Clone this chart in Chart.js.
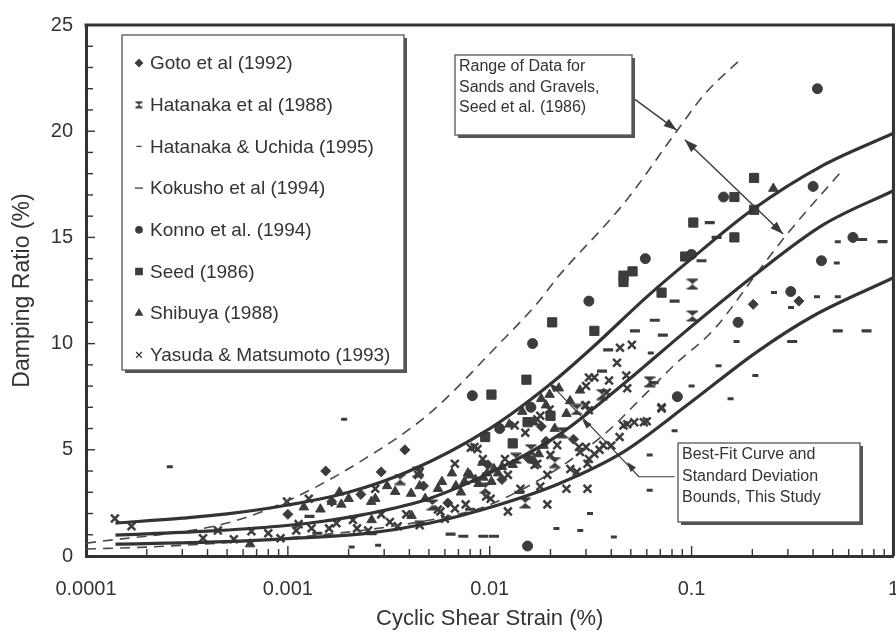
<!DOCTYPE html>
<html><head><meta charset="utf-8">
<script src="https://cdn.jsdelivr.net/npm/chart.js@4.4.1/dist/chart.umd.min.js"></script>
<style>html,body{margin:0;padding:0;background:#fff;overflow:hidden;width:896px;height:637px}canvas{display:block}</style>
</head><body>
<canvas id="c" width="920" height="637" style="width:920px;height:637px"></canvas>
<script>
// ---- axis ticks ----
const xTickValues = [0.0001, 0.001, 0.01, 0.1, 1];
const xTickLabels = ['0.0001', '0.001', '0.01', '0.1', '1'];
const yTickValues = [0, 5, 10, 15, 20, 25];

// ---- fitted curves ----
const bestFitUpper = [[0.00014,1.55],[0.0003,1.78],[0.0005,1.98],[0.001,2.4],[0.002,3.0],[0.004,4.0],[0.01,6.0],[0.02,8.1],[0.033,9.9],[0.06,12.2],[0.1,14.0],[0.2,16.3],[0.45,18.4],[1,19.9]];
const bestFitMiddle = [[0.00014,0.98],[0.0004,1.17],[0.0009,1.4],[0.0014,1.6],[0.0024,1.96],[0.005,2.7],[0.011,4.1],[0.022,5.7],[0.046,8.1],[0.094,10.6],[0.21,13.3],[0.45,15.6],[1,17.2]];
const bestFitLower = [[0.00014,0.56],[0.0004,0.65],[0.001,0.82],[0.0024,1.05],[0.005,1.54],[0.011,2.4],[0.022,3.4],[0.046,4.9],[0.098,7.2],[0.21,9.6],[0.4,11.3],[1,13.1]];
const seedRangeUpper = [[0.0001,0.6],[0.0005,1.55],[0.001,2.6],[0.0024,4.57],[0.0051,6.76],[0.0109,9.9],[0.0172,11.9],[0.0216,13.1],[0.0462,16.6],[0.0844,20.0],[0.115,21.7],[0.18,23.5]];
const seedRangeLower = [[0.0001,0.33],[0.0002,0.42],[0.001,0.85],[0.0033,1.4],[0.0072,2.0],[0.0095,2.33],[0.02,3.9],[0.038,5.83],[0.0555,7.37],[0.0815,8.96],[0.13,10.7],[0.21,13.3],[0.3,15.2],[0.54,18.0]];

// ---- data series ----
const seriesNames = ['Goto et al (1992)','Hatanaka et al (1988)','Hatanaka & Uchida (1995)','Kokusho et al (1994)','Konno et al. (1994)','Seed (1986)','Shibuya (1988)','Yasuda & Matsumoto (1993)'];
const goto1992 = [[0.001,1.96],[0.00154,4.0],[0.0029,3.96],[0.0038,5.0],[0.00165,2.56],[0.0023,2.9],[0.0047,3.3],[0.0062,2.5],[0.0115,3.6],[0.0155,4.6],[0.202,11.85],[0.34,12.0],[0.018,6.1],[0.019,5.4],[0.026,5.5],[0.0098,4.3]];
const hatanaka1988 = [[0.101,12.8],[0.101,11.3],[0.0044,3.96],[0.0036,3.6],[0.0095,3.2],[0.021,4.4],[0.027,6.9],[0.036,7.6],[0.015,2.5],[0.062,8.2],[0.0052,2.4],[0.0135,4.6],[0.016,5.0],[0.023,5.8]];
const hatanakaUchida1995 = [[0.00026,4.2],[0.0019,6.44],[0.00207,0.42],[0.0028,0.51],[0.0214,1.3],[0.0281,1.2],[0.0412,0.9],[0.0314,2.0],[0.062,3.1],[0.062,4.75],[0.0824,5.9],[0.1,8.0],[0.156,7.4],[0.207,8.5],[0.136,8.96],[0.0628,9.56],[0.53,14.8],[0.524,13.8],[0.256,12.4],[0.418,12.2],[0.53,12.2],[0.311,11.7],[0.167,10.1]];
const kokusho1994 = [[0.123,15.7],[0.133,15.0],[0.112,13.9],[0.0824,12.0],[0.0657,11.1],[0.0524,10.6],[0.072,10.4],[0.0386,9.7],[0.036,8.7],[0.0649,8.16],[0.315,10.1],[0.53,10.6],[0.736,10.6],[0.883,14.8],[0.7,14.9],[0.00128,1.87],[0.0014,1.07],[0.0064,1.03],[0.0074,0.93],[0.0093,0.93],[0.0105,0.93],[0.0045,1.6],[0.008,2.2],[0.014,3.0],[0.0026,1.05]];
const konno1994 = [[0.42,22.0],[0.40,17.4],[0.144,16.9],[0.059,14.0],[0.031,12.0],[0.44,13.9],[0.63,15.0],[0.31,12.45],[0.17,11.0],[0.1,14.2],[0.0163,10.0],[0.0082,7.55],[0.016,7.0],[0.085,7.5],[0.0112,6.0],[0.0154,0.47]];
const seed1986 = [[0.204,17.8],[0.163,16.9],[0.204,16.3],[0.102,15.7],[0.163,15.0],[0.093,14.1],[0.046,13.2],[0.051,13.4],[0.046,12.9],[0.071,12.4],[0.033,10.6],[0.0204,11.0],[0.0152,8.3],[0.0102,7.6],[0.0154,6.3],[0.013,5.3],[0.02,6.6],[0.0095,5.6]];
const shibuya1988 = [[0.254,17.3],[0.0034,3.03],[0.00408,2.94],[0.00271,2.7],[0.002,2.7],[0.00165,2.56],[0.00479,2.7],[0.00554,3.17],[0.0031,3.3],[0.0045,3.3],[0.0058,3.5],[0.0075,3.5],[0.008,3.8],[0.0088,3.4],[0.0072,3.0],[0.0097,3.9],[0.0105,4.1],[0.0012,2.3],[0.0018,3.0],[0.00145,2.2],[0.0026,1.7],[0.0041,1.9],[0.00065,0.56],[0.0165,4.5],[0.0185,5.2],[0.013,4.3],[0.0125,6.2],[0.0145,6.8],[0.018,7.4],[0.0198,7.6],[0.022,7.9],[0.024,6.7],[0.00259,2.56],[0.00184,2.43],[0.0065,3.9],[0.0092,4.4],[0.0068,3.3],[0.0078,3.9],[0.0085,3.6],[0.0093,3.7],[0.0102,3.5],[0.011,3.9],[0.0115,4.2],[0.0175,4.8],[0.0165,6.3],[0.019,7.1],[0.021,6.0],[0.025,7.3],[0.028,7.8]];
const yasuda1993 = [[0.000139,1.77],[0.000168,1.4],[0.00038,0.84],[0.00045,1.2],[0.00054,0.79],[0.00066,1.17],[0.0008,1.07],[0.00092,0.84],[0.00099,2.56],[0.00113,1.5],[0.00131,1.31],[0.00174,1.54],[0.0029,1.96],[0.00386,1.96],[0.00554,2.19],[0.00672,2.24],[0.00271,3.17],[0.00442,3.82],[0.00672,4.34],[0.00806,5.1],[0.00924,4.57],[0.0172,6.44],[0.0096,2.8],[0.0178,3.27],[0.02,4.76],[0.0087,5.04],[0.0123,3.82],[0.0167,4.29],[0.0216,5.22],[0.028,4.9],[0.027,3.96],[0.0193,3.82],[0.024,3.17],[0.031,4.57],[0.0305,3.17],[0.0142,3.17],[0.0101,2.7],[0.0076,2.43],[0.0057,2.1],[0.0123,2.1],[0.0193,2.43],[0.0045,3.96],[0.00127,2.7],[0.03,8.0],[0.033,8.4],[0.0198,6.9],[0.0178,6.6],[0.03,7.1],[0.015,5.8],[0.0133,6.15],[0.0506,9.94],[0.0442,9.8],[0.0427,9.1],[0.031,8.4],[0.039,8.26],[0.0475,8.5],[0.048,7.9],[0.038,7.7],[0.0297,7.1],[0.031,6.86],[0.071,6.95],[0.06,6.34],[0.052,6.3],[0.046,6.15],[0.044,5.6],[0.04,5.2],[0.033,4.8],[0.03,5.13],[0.0305,4.34],[0.0251,4.1],[0.035,5.0],[0.0277,5.13],[0.0365,5.22],[0.0172,4.34],[0.0084,5.13],[0.0119,4.57],[0.048,6.2],[0.058,6.3],[0.071,7.0],[0.0035,1.4],[0.0025,1.2],[0.0022,1.3],[0.0032,1.6],[0.0045,1.45],[0.006,1.75],[0.0011,1.2],[0.0016,1.3],[0.0021,1.7]];

// ---- annotation anchors (data coordinates) ----
const rangeArrow = [[0.0524,21.5],[0.0844,20.05]];
const rangeDoubleArrow = [[0.0926,19.6],[0.284,15.16]];
const fitLeader = [[0.0825,3.73],[0.0548,3.73],[0.0197,8.16]];
const fitLeaderHeads = [[0.0479,4.43],[0.0287,6.44]];
const rangeNote = ['Range of Data for','Sands and Gravels,','Seed et al. (1986)'];
const fitNote = ['Best-Fit Curve and','Standard Deviation','Bounds, This Study'];

const INK = '#333333';
const MARK = '#3c3c3c';
const FONT = "'Liberation Sans', Arial, Helvetica, sans-serif";

function hourglass(size){
  const c=document.createElement('canvas'); c.width=size; c.height=size;
  const g=c.getContext('2d'); g.fillStyle=MARK; const s=size;
  g.fillRect(0.5,0.5,s-1,1.8); g.fillRect(0.5,s-2.3,s-1,1.8);
  g.beginPath(); g.moveTo(1.5,2); g.lineTo(s-1.5,2); g.lineTo(s/2,s/2); g.closePath(); g.fill();
  g.beginPath(); g.moveTo(1.5,s-2); g.lineTo(s-1.5,s-2); g.lineTo(s/2,s/2); g.closePath(); g.fill();
  return c;
}
const hgBig = hourglass(12), hgSmall = hourglass(8);
const toXY = a => a.map(p => ({x:p[0], y:p[1]}));

const pointSpecs = [
  {data:goto1992, style:'rectRot', r:5, bw:1, lr:3.5, lbw:1},
  {data:hatanaka1988, style:hgBig, r:6, bw:1, lstyle:hgSmall, lr:4, lbw:1},
  {data:hatanakaUchida1995, style:'line', r:3, bw:3, lr:2.5, lbw:2.5},
  {data:kokusho1994, style:'line', r:5, bw:3.2, lr:4, lbw:2.5},
  {data:konno1994, style:'circle', r:5, bw:1, lr:3.2, lbw:1},
  {data:seed1986, style:'rect', r:6.5, bw:1, lr:4.5, lbw:1},
  {data:shibuya1988, style:'triangle', r:5.5, bw:1, lr:3.8, lbw:1},
  {data:yasuda1993, style:'crossRot', r:5.5, bw:2.5, lr:4, lbw:1.6}
];

const datasets = [];
[[bestFitUpper,false],[bestFitMiddle,false],[bestFitLower,false],[seedRangeUpper,true],[seedRangeLower,true]].forEach(([d,dash],i)=>{
  datasets.push({type:'line', label:'curve'+i, data:toXY(d), borderColor: dash?'#4a4a4a':'#333', borderWidth: dash?1.6:3.2,
    borderDash: dash?[10,7]:[], pointRadius:0, cubicInterpolationMode:'monotone', fill:false, order:0});
});
pointSpecs.forEach((s,i)=>{
  datasets.push({type:'scatter', label:seriesNames[i], data:toXY(s.data), pointStyle:s.style, pointRadius:s.r,
    pointBorderWidth:s.bw, pointBackgroundColor:MARK, pointBorderColor:MARK, showLine:false, order:1});
});

function drawArrowHead(ctx, from, to, len, half){
  const a=Math.atan2(to.y-from.y, to.x-from.x);
  ctx.beginPath(); ctx.moveTo(to.x,to.y);
  ctx.lineTo(to.x-len*Math.cos(a)+half*Math.sin(a), to.y-len*Math.sin(a)-half*Math.cos(a));
  ctx.lineTo(to.x-len*Math.cos(a)-half*Math.sin(a), to.y-len*Math.sin(a)+half*Math.cos(a));
  ctx.closePath(); ctx.fill();
}
function shadowBox(ctx, l, t, r, b){
  ctx.fillStyle='#555'; ctx.fillRect(l+3, t+3, r-l, b-t);
  ctx.fillStyle='#fff'; ctx.fillRect(l, t, r-l, b-t);
  ctx.strokeStyle='#555'; ctx.lineWidth=1.3; ctx.strokeRect(l, t, r-l, b-t);
}

const decor = {
  id:'decor',
  afterDraw(chart){
    const {ctx, chartArea:a, scales:{x,y}} = chart;
    const P = p => ({x:x.getPixelForValue(p[0]), y:y.getPixelForValue(p[1])});
    ctx.save();
    // inward tick marks
    ctx.strokeStyle=INK; ctx.lineWidth=1.4;
    for(let v=0; v<=25; v++){ const py=y.getPixelForValue(v); ctx.beginPath(); ctx.moveTo(a.left,py); ctx.lineTo(a.left+(v%5===0?9:7),py); ctx.stroke(); }
    for(let d=-4; d<0; d++){ for(let m=1; m<=9; m++){ const px=x.getPixelForValue(m*Math.pow(10,d)); ctx.beginPath(); ctx.moveTo(px,a.bottom); ctx.lineTo(px,a.bottom-(m===1?10:7)); ctx.stroke(); } }
    // frame top and right
    ctx.lineWidth=3; ctx.beginPath(); ctx.moveTo(a.left-1.5,a.top); ctx.lineTo(a.right,a.top); ctx.lineTo(a.right,a.bottom); ctx.stroke();

    // arrows for range note
    ctx.strokeStyle='#3a3a3a'; ctx.fillStyle='#3a3a3a'; ctx.lineWidth=1.4;
    let p1=P(rangeArrow[0]), p2=P(rangeArrow[1]);
    ctx.beginPath(); ctx.moveTo(p1.x,p1.y); ctx.lineTo(p2.x,p2.y); ctx.stroke(); drawArrowHead(ctx,p1,p2,13,4.5);
    p1=P(rangeDoubleArrow[0]); p2=P(rangeDoubleArrow[1]);
    ctx.beginPath(); ctx.moveTo(p1.x,p1.y); ctx.lineTo(p2.x,p2.y); ctx.stroke();
    drawArrowHead(ctx,p1,p2,13,4.5); drawArrowHead(ctx,p2,p1,13,4.5);
    // leader for fit note
    const lp = fitLeader.map(P);
    ctx.lineWidth=1.2; ctx.beginPath(); ctx.moveTo(lp[0].x,lp[0].y); lp.slice(1).forEach(q=>ctx.lineTo(q.x,q.y)); ctx.stroke();
    fitLeaderHeads.map(P).forEach(h=>drawArrowHead(ctx, lp[1], h, 10, 3.5));
    drawArrowHead(ctx, lp[1], lp[2], 10, 3.5);

    // note boxes
    shadowBox(ctx, 455, 55, 632, 135);
    ctx.fillStyle=INK; ctx.font='16px '+FONT; ctx.textBaseline='middle'; ctx.textAlign='left';
    rangeNote.forEach((t,i)=>ctx.fillText(t, 459, 67+i*20.5));
    shadowBox(ctx, 678, 443, 860, 522);
    ctx.fillStyle=INK;
    fitNote.forEach((t,i)=>ctx.fillText(t, 682, 455+i*21.5));

    // legend box
    shadowBox(ctx, 122, 35, 404, 370);
    ctx.font='19px '+FONT;
    pointSpecs.forEach((s,i)=>{
      const cy = 63 + i*41.7;
      ctx.fillStyle=MARK; ctx.strokeStyle=MARK;
      Chart.helpers.drawPoint(ctx, {pointStyle: s.lstyle||s.style, radius:s.lr, borderWidth:s.lbw, rotation:0}, 139, cy);
      ctx.fillStyle=INK; ctx.fillText(seriesNames[i], 150, cy+1);
    });
    ctx.restore();
  }
};

new Chart(document.getElementById('c'), {
  data:{datasets},
  options:{
    responsive:false, animation:false, devicePixelRatio:1,
    layout:{padding:{top:19, right:22, bottom:0, left:0}},
    plugins:{legend:{display:false}, tooltip:{enabled:false}},
    scales:{
      x:{type:'logarithmic', position:'bottom', min:0.0001, max:1,
        afterBuildTicks:s=>{ s.ticks = xTickValues.map(v=>({value:v, major:true})); },
        afterFit:s=>{ s.height = 81; },
        grid:{display:false, drawTicks:false},
        border:{display:true, color:INK, width:3},
        ticks:{autoSkip:false, maxRotation:0, padding:21, color:INK, font:{family:FONT, size:20},
          callback:(v,i)=>xTickLabels[i]},
        title:{display:true, text:'Cyclic Shear Strain (%)', color:INK, font:{family:FONT, size:22}, padding:{top:0, bottom:5}}
      },
      y:{type:'linear', position:'left', min:0, max:25,
        afterBuildTicks:s=>{ s.ticks = yTickValues.map(v=>({value:v})); },
        afterFit:s=>{ s.width = 86; },
        grid:{display:false, drawTicks:false},
        border:{display:true, color:INK, width:3},
        ticks:{padding:13, color:INK, font:{family:FONT, size:20}},
        title:{display:true, text:'Damping Ratio (%)', color:INK, font:{family:FONT, size:23}, padding:{top:9, bottom:0}}
      }
    }
  },
  plugins:[decor]
});
</script>
</body></html>
